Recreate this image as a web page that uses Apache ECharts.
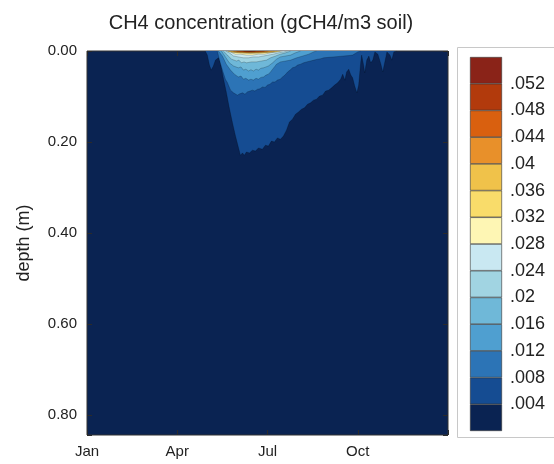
<!DOCTYPE html>
<html>
<head>
<meta charset="utf-8">
<script src="https://cdn.jsdelivr.net/npm/echarts@6/dist/echarts.min.js"></script>
<style>
  html, body { margin: 0; padding: 0; background: #fff; }
  #chart { width: 554px; height: 464px; }
</style>
</head>
<body>
<div id="chart"></div>
<script>
// Soil CH4 concentration: each array is the depth (m) reached by a contour level
// over the year; x = month index (0 = 1 Jan), y = depth in metres.
const monthNames = ['Jan', 'Feb', 'Mar', 'Apr', 'May', 'Jun', 'Jul', 'Aug', 'Sep', 'Oct', 'Nov', 'Dec'];
const levelLabels = ['.004', '.008', '.012', '.016', '.02', '.024', '.028', '.032', '.036', '.04', '.044', '.048', '.052'];
// fill colours, lowest band first
const bandColors = ['#0a2352', '#154c92', '#2c74b6', '#4f9fd0', '#6fb8d8', '#a1d4e2', '#c9e8f2',
  '#fef6b4', '#f9dc6a', '#f0c24a', '#e8902a', '#d9600f', '#b23a0c', '#8a2318'];

const c004 = [[3.93,0],[4.00,0.009],[4.07,0.031],[4.13,0.042],[4.20,0.033],[4.27,0.020],[4.37,0.015],
  [4.43,0.024],[4.53,0.059],[4.63,0.090],[4.73,0.125],[4.83,0.156],[4.93,0.185],[5.03,0.211],[5.10,0.229],
  [5.17,0.224],[5.23,0.229],[5.30,0.222],[5.40,0.224],[5.50,0.218],[5.60,0.220],[5.70,0.213],[5.83,0.216],
  [5.93,0.207],[6.03,0.209],[6.13,0.198],[6.23,0.200],[6.33,0.191],[6.43,0.194],[6.53,0.187],[6.63,0.174],
  [6.73,0.156],[6.83,0.150],[6.93,0.139],[7.03,0.134],[7.13,0.128],[7.23,0.125],[7.33,0.117],[7.43,0.114],
  [7.53,0.108],[7.63,0.106],[7.73,0.099],[7.83,0.097],[7.93,0.088],[8.03,0.086],[8.13,0.081],[8.23,0.075],
  [8.33,0.070],[8.43,0.062],[8.50,0.051],[8.57,0.064],[8.63,0.046],[8.70,0.040],[8.77,0.053],[8.83,0.059],
  [8.90,0.077],[8.97,0.092],[9.03,0.075],[9.10,0.024],[9.13,0.009],[9.20,0.033],[9.23,0.048],[9.30,0.020],
  [9.37,0.011],[9.43,0.026],[9.50,0.020],[9.57,0.002],[9.67,0.007],[9.77,0.029],[9.83,0.046],[9.90,0.024],
  [9.97,0.002],[10.07,0.009],[10.13,0.020],[10.20,0.002],[10.30,0]];
const c008 = [[4.33,0],[4.37,0.004],[4.43,0.026],[4.53,0.048],[4.60,0.062],[4.67,0.070],[4.77,0.086],
  [4.87,0.092],[4.93,0.090],[5.00,0.097],[5.08,0.094],[5.17,0.092],[5.25,0.095],[5.33,0.090],[5.42,0.088],
  [5.50,0.086],[5.58,0.088],[5.67,0.084],[5.75,0.083],[5.83,0.079],[5.92,0.080],[6.00,0.075],[6.08,0.073],
  [6.17,0.068],[6.25,0.068],[6.33,0.064],[6.42,0.062],[6.50,0.057],[6.58,0.053],[6.67,0.046],[6.75,0.042],
  [6.83,0.037],[6.92,0.035],[7.00,0.031],[7.10,0.029],[7.20,0.026],[7.30,0.024],[7.43,0.022],[7.55,0.020],
  [7.67,0.018],[7.77,0.017],[7.87,0.015],[8.03,0.014],[8.20,0.013],[8.37,0.012],[8.53,0.011],[8.70,0.010],
  [8.83,0.009],[9.00,0.002],[9.10,0]];
const c012 = [[4.37,0],[4.50,0.011],[4.63,0.029],[4.77,0.042],[4.90,0.051],[5.03,0.057],[5.12,0.055],
  [5.20,0.062],[5.28,0.060],[5.37,0.064],[5.45,0.062],[5.53,0.064],[5.62,0.060],[5.70,0.062],[5.78,0.058],
  [5.87,0.057],[5.95,0.053],[6.03,0.051],[6.10,0.046],[6.17,0.040],[6.23,0.035],[6.30,0.029],[6.43,0.024],
  [6.60,0.022],[6.77,0.020],[6.97,0.015],[7.17,0.011],[7.37,0.007],[7.53,0.002],[7.63,0]];
const c016 = [[4.47,0],[4.60,0.013],[4.73,0.026],[4.87,0.033],[5.03,0.037],[5.12,0.035],[5.20,0.042],
  [5.28,0.040],[5.37,0.044],[5.45,0.041],[5.53,0.044],[5.62,0.040],[5.70,0.042],[5.78,0.038],[5.87,0.037],
  [5.95,0.035],[6.03,0.033],[6.17,0.026],[6.30,0.018],[6.43,0.013],[6.60,0.011],[6.77,0.009],[6.93,0.004],[7.10,0]];
const c020 = [[4.53,0],[4.67,0.009],[4.80,0.018],[4.97,0.022],[5.05,0.020],[5.13,0.026],[5.22,0.024],
  [5.30,0.026],[5.47,0.024],[5.63,0.024],[5.80,0.022],[5.97,0.020],[6.10,0.015],[6.27,0.011],[6.43,0.007],
  [6.60,0.004],[6.77,0]];
const c024 = [[4.60,0],[4.73,0.004],[4.87,0.011],[5.03,0.013],[5.20,0.015],[5.37,0.015],[5.53,0.013],
  [5.70,0.013],[5.87,0.011],[6.03,0.009],[6.20,0.007],[6.37,0.004],[6.53,0.002],[6.67,0]];
const c028 = [[4.63,0],[4.77,0.002],[4.93,0.007],[5.10,0.007],[5.30,0.009],[5.50,0.009],[5.70,0.007],
  [5.90,0.007],[6.10,0.004],[6.30,0.002],[6.50,0]];
const c032 = [[4.67,0],[4.83,0.003],[5.10,0.004],[5.43,0.005],[5.77,0.004],[6.03,0.003],[6.27,0.002],[6.43,0]];
const c036 = [[4.70,0],[4.93,0.003],[5.27,0.0045],[5.60,0.0045],[5.93,0.0035],[6.17,0.002],[6.33,0]];
const c040 = [[4.77,0],[5.03,0.0025],[5.43,0.0035],[5.83,0.0025],[6.10,0.001],[6.23,0]];
const c044 = [[4.87,0],[5.27,0.0025],[5.70,0.0022],[6.03,0]];
const c048 = [[4.97,0],[5.37,0.0016],[5.70,0.0012],[5.90,0]];
const c052 = [[5.20,0],[5.40,0.001],[5.60,0]];

const contours = [c004, c008, c012, c016, c020, c024, c028, c032, c036, c040, c044, c048, c052];

const font = 'Liberation Sans, Arial, Helvetica, sans-serif';
const ink = '#222';
const tick = { inside: true, length: 5, lineStyle: { color: '#2a2a2a', width: 1 } };

const chart = echarts.init(document.getElementById('chart'), null, { renderer: 'canvas' });

const contourSeries = contours.map((pts, i) => ({
  type: 'line',
  xAxisIndex: 0,
  yAxisIndex: 0,
  data: pts,
  symbol: 'none',
  silent: true,
  animation: false,
  lineStyle: { width: 0.6, color: 'rgba(0,0,0,0.35)' },
  areaStyle: { color: bandColors[i + 1], opacity: 1, origin: 'start' },
  z: 2 + i
}));

const barSeries = bandColors.map((c, i) => ({
  type: 'bar',
  xAxisIndex: 2,
  yAxisIndex: 2,
  stack: 'bar',
  data: [1],
  barWidth: '100%',
  silent: true,
  animation: false,
  itemStyle: { color: c, borderColor: '#333', borderWidth: 0.6 }
}));

chart.setOption({
  animation: false,
  backgroundColor: '#fff',
  title: {
    text: 'CH4 concentration (gCH4/m3 soil)',
    left: 256, top: 8, textAlign: 'center',
    textStyle: { fontFamily: font, fontSize: 20, fontWeight: 'normal', color: ink }
  },
  graphic: [{
    type: 'rect', shape: { x: 457.5, y: 47.5, width: 120, height: 390 },
    style: { fill: 'none', stroke: '#c8c8c8', lineWidth: 1 }, z: -1
  }],
  grid: [
    { left: 87, right: 106, top: 51, bottom: 29, show: true, backgroundColor: bandColors[0],
      borderColor: '#333', borderWidth: 1 },
    { left: 470, width: 32, top: 57, height: 374 }
  ],
  xAxis: [
    { type: 'value', gridIndex: 0, position: 'bottom', min: 0, max: 12, interval: 3,
      axisLine: { show: false, onZero: false }, splitLine: { show: false }, axisTick: tick,
      axisLabel: { margin: 9, fontFamily: font, fontSize: 15, color: ink,
        formatter: v => (v < 12 ? monthNames[Math.round(v)] : '') } },
    { type: 'value', gridIndex: 0, position: 'top', min: 0, max: 12, interval: 3,
      axisLine: { show: false, onZero: false }, splitLine: { show: false }, axisLabel: { show: false },
      axisTick: tick },
    { type: 'category', gridIndex: 1, data: [''], show: false }
  ],
  yAxis: [
    { type: 'value', gridIndex: 0, position: 'left', min: 0, max: 0.844, interval: 0.2, inverse: true,
      name: 'depth (m)', nameLocation: 'middle', nameGap: 54,
      nameTextStyle: { fontFamily: font, fontSize: 18, color: ink },
      axisLine: { show: false, onZero: false }, splitLine: { show: false }, axisTick: tick,
      axisLabel: { margin: 10, fontFamily: font, fontSize: 15, color: ink,
        formatter: v => (v < 0.81 ? v.toFixed(2) : '') } },
    { type: 'value', gridIndex: 0, position: 'right', min: 0, max: 0.844, interval: 0.2, inverse: true,
      axisLine: { show: false, onZero: false }, splitLine: { show: false }, axisLabel: { show: false },
      axisTick: tick },
    { type: 'value', gridIndex: 1, position: 'right', min: 0, max: 14, interval: 1,
      axisLine: { show: false }, axisTick: { show: false }, splitLine: { show: false },
      axisLabel: { margin: 8, fontFamily: font, fontSize: 18, color: ink,
        formatter: v => (v >= 1 && v <= 13) ? levelLabels[v - 1] : '' } }
  ],
  series: contourSeries.concat(barSeries)
});
</script>
</body>
</html>
